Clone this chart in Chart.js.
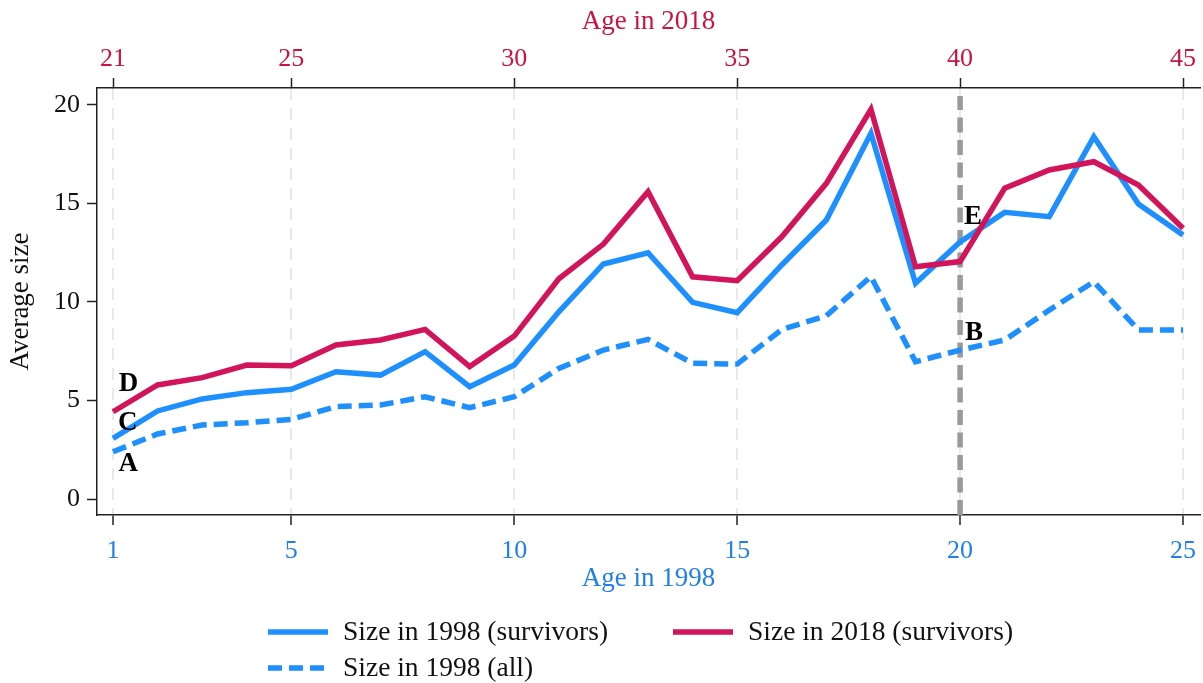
<!DOCTYPE html>
<html><head><meta charset="utf-8">
<script src="https://cdn.jsdelivr.net/npm/chart.js@4.4.1/dist/chart.umd.min.js"></script>
<style>html,body{margin:0;padding:0;background:#fff;}#wrap{width:1203px;height:683px;}</style>
</head><body><div id="wrap"><canvas id="c" width="1203" height="683"></canvas></div>
<script>
// ---- data ----
const ageIn1998 = [1,2,3,4,5,6,7,8,9,10,11,12,13,14,15,16,17,18,19,20,21,22,23,24,25];
const size1998Survivors = [3.08,4.47,5.08,5.40,5.57,6.46,6.29,7.48,5.70,6.80,9.50,11.93,12.50,9.98,9.46,11.88,14.16,18.56,10.95,13.05,14.55,14.33,18.39,14.97,13.40];
const size2018Survivors = [4.43,5.79,6.16,6.80,6.77,7.82,8.07,8.61,6.72,8.27,11.18,12.94,15.60,11.28,11.08,13.31,16.02,19.78,11.79,12.05,15.77,16.70,17.12,15.94,13.74];
const size1998All = [2.40,3.30,3.76,3.87,4.04,4.69,4.77,5.19,4.64,5.19,6.63,7.56,8.10,6.89,6.85,8.60,9.30,11.29,6.97,7.56,8.07,9.59,11.03,8.58,8.58];
const bottomTicks = [1,5,10,15,20,25];
const topTicks = [21,25,30,35,40,45];
const yTicks = [0,5,10,15,20];
const refAge = 20;
const letterMarks = [
  {t:'D', x:1.35, y:5.85},
  {t:'C', x:1.33, y:3.85},
  {t:'A', x:1.34, y:1.8},
  {t:'E', x:20.29, y:14.3},
  {t:'B', x:20.31, y:8.4}
];

const BLUE = '#1E8FFF';
const RED = '#D2145A';
const RED_TXT = '#C8143F';
const BLUE_TXT = '#2180E8';
const FONT = "'Liberation Serif', 'Times New Roman', serif";

const xMin = 0.641, xMax = 25.381, yMin = -0.81, yMax = 20.86;

function pts(arr){ return ageIn1998.map((a,i)=>({x:a, y:arr[i]})); }
function noPad(s){ s.paddingLeft = 0; s.paddingRight = 0; s.paddingTop = 0; s.paddingBottom = 0; }

const refLine = {
  id:'refLine',
  beforeDatasetsDraw(chart){
    const {ctx, chartArea:a, scales:{x}} = chart;
    const px = x.getPixelForValue(refAge);
    ctx.save();
    ctx.strokeStyle = '#9a9a9a';
    ctx.lineWidth = 5.5;
    ctx.setLineDash([15,7.5]);
    ctx.beginPath();
    ctx.moveTo(px, a.bottom);
    ctx.lineTo(px, a.top + 8);
    ctx.stroke();
    ctx.restore();
  }
};

const letters = {
  id:'letters',
  afterDatasetsDraw(chart){
    const {ctx, scales:{x,y}} = chart;
    ctx.save();
    ctx.font = "bold 27px " + FONT;
    ctx.fillStyle = '#000';
    ctx.textAlign = 'center';
    ctx.textBaseline = 'middle';
    letterMarks.forEach(m => ctx.fillText(m.t, x.getPixelForValue(m.x), y.getPixelForValue(m.y)));
    ctx.restore();
  }
};

const legendBox = {
  id:'legendBox',
  afterDraw(chart){
    const {ctx} = chart;
    const ds = chart.data.datasets;
    const slots = [
      {i:0, x:268, y:632},
      {i:1, x:673, y:632},
      {i:2, x:268, y:668}
    ];
    ctx.save();
    slots.forEach(s => {
      const d = ds[s.i];
      ctx.strokeStyle = d.borderColor;
      ctx.lineWidth = 5.5;
      ctx.setLineDash(d.borderDash || []);
      ctx.beginPath();
      ctx.moveTo(s.x, s.y);
      ctx.lineTo(s.x + 60, s.y);
      ctx.stroke();
      ctx.setLineDash([]);
      ctx.font = "27.5px " + FONT;
      ctx.fillStyle = '#111';
      ctx.textAlign = 'left';
      ctx.textBaseline = 'middle';
      ctx.fillText(d.label, s.x + 75, s.y + 1);
    });
    ctx.restore();
  }
};

new Chart(document.getElementById('c'), {
  type:'line',
  data:{
    datasets:[
      {label:'Size in 1998 (survivors)', data:pts(size1998Survivors), borderColor:BLUE, borderWidth:5.5, pointRadius:0, tension:0, order:2},
      {label:'Size in 2018 (survivors)', data:pts(size2018Survivors), borderColor:RED, borderWidth:5.5, pointRadius:0, tension:0, order:1},
      {label:'Size in 1998 (all)', data:pts(size1998All), borderColor:BLUE, borderWidth:5.5, borderDash:[14,7], pointRadius:0, tension:0, order:3}
    ]
  },
  options:{
    responsive:false,
    animation:false,
    devicePixelRatio:1,
    layout:{padding:{left:0, right:3, top:0, bottom:83}},
    plugins:{legend:{display:false}, tooltip:{enabled:false}},
    scales:{
      x:{
        type:'linear', position:'bottom', min:xMin, max:xMax,
        afterBuildTicks(s){ s.ticks = bottomTicks.map(v=>({value:v})); },
        afterFit(s){ s.height = 85; noPad(s); },
        ticks:{color:BLUE_TXT, font:{family:FONT, size:26}, padding:11, maxRotation:0},
        grid:{color:'#e9e9e9', lineWidth:2, drawOnChartArea:true, drawTicks:true, tickLength:10, tickColor:'#222', tickWidth:1.5},
        border:{display:true, color:'#222', width:1.5, dash:[12,8]},
        title:{display:true, text:'Age in 1998', color:BLUE_TXT, font:{family:FONT, size:27}, padding:{top:0, bottom:5}}
      },
      x2:{
        type:'linear', position:'top', min:xMin+20, max:xMax+20,
        afterBuildTicks(s){ s.ticks = topTicks.map(v=>({value:v})); },
        afterFit(s){ s.height = 88; noPad(s); },
        ticks:{color:RED_TXT, font:{family:FONT, size:26}, padding:3, maxRotation:0},
        grid:{drawOnChartArea:false, drawTicks:true, tickLength:10, tickColor:'#222', tickWidth:1.5},
        border:{display:true, color:'#222', width:1.5},
        title:{display:true, text:'Age in 2018', color:RED_TXT, font:{family:FONT, size:27}, padding:{top:6, bottom:0}}
      },
      y:{
        type:'linear', position:'left', min:yMin, max:yMax,
        afterBuildTicks(s){ s.ticks = yTicks.map(v=>({value:v})); },
        afterFit(s){ s.width = 97; noPad(s); },
        ticks:{color:'#111', font:{family:FONT, size:26}, padding:7},
        grid:{drawOnChartArea:false, drawTicks:true, tickLength:10, tickColor:'#222', tickWidth:1.5},
        border:{display:true, color:'#222', width:1.5},
        title:{display:true, text:'Average size', color:'#111', font:{family:FONT, size:27}, padding:{top:4.5, bottom:0}}
      }
    }
  },
  plugins:[refLine, letters, legendBox]
});
</script>
</body></html>
